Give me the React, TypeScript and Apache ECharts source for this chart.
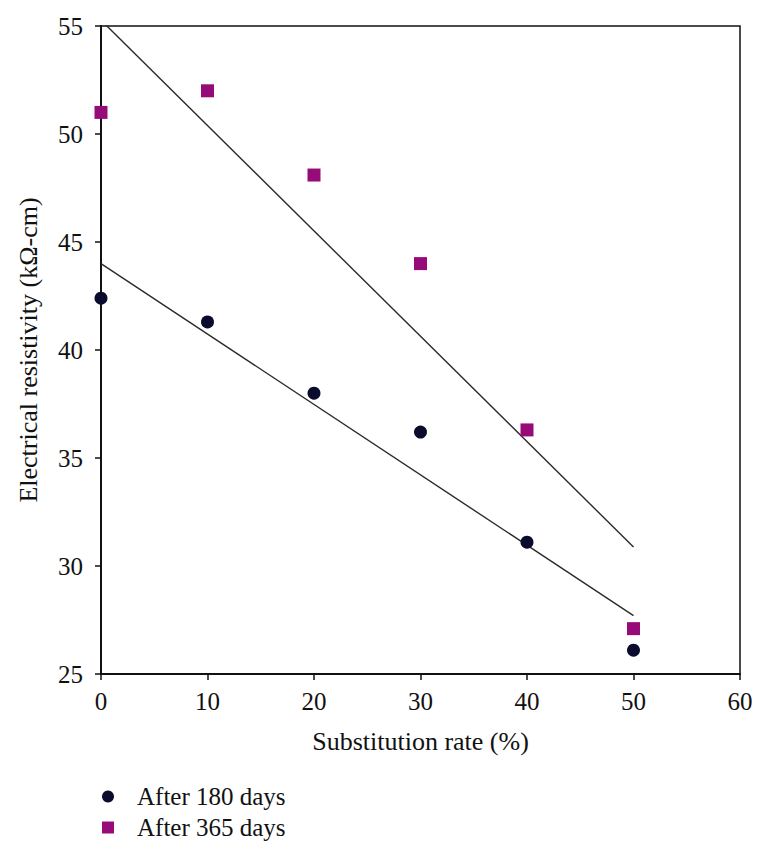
import React, { useEffect, useRef } from "react";
import * as echarts from "echarts";

const xValues = [0, 10, 20, 30, 40, 50];
const days180 = [42.4, 41.3, 38.0, 36.2, 31.1, 26.1];
const days365 = [51.0, 52.0, 48.1, 44.0, 36.3, 27.1];
const trendX = [0, 50];
const trend180 = [44.0, 27.7];
const trend365 = [55.27, 30.88];
const seriesNames = ["After 180 days", "After 365 days"];

const FONT = '"Liberation Serif", "DejaVu Serif", serif';
const TEXT = "#111";

export default function App() {
  const ref = useRef<HTMLDivElement>(null);
  useEffect(() => {
    if (!ref.current) return;
    const chart = echarts.init(ref.current, undefined, { renderer: "svg" });
    const pts = (ys: number[]) => xValues.map((x, i) => [x, ys[i]]);
    const trend = (ys: number[]) => trendX.map((x, i) => [x, ys[i]]);
    const legendText = { fontFamily: FONT, fontSize: 25, color: TEXT, padding: [0, 0, 0, 18] };
    chart.setOption({
      animation: false,
      backgroundColor: "#fff",
      textStyle: { fontFamily: FONT },
      grid: {
        left: 101,
        top: 26,
        right: 18,
        bottom: 168,
        show: true,
        borderColor: "#111",
        borderWidth: 1.5,
        backgroundColor: "transparent",
      },
      legend: [
        {
          orient: "vertical",
          left: 102,
          top: 784,
          itemWidth: 12,
          itemHeight: 12,
          padding: 0,
          data: [{ name: seriesNames[0], icon: "circle" }],
          textStyle: legendText,
        },
        {
          orient: "vertical",
          left: 102,
          top: 815,
          itemWidth: 12,
          itemHeight: 12,
          padding: 0,
          data: [{ name: seriesNames[1], icon: "rect" }],
          textStyle: legendText,
        },
      ],
      xAxis: {
        type: "value",
        min: 0,
        max: 60,
        interval: 10,
        name: "Substitution rate (%)",
        nameLocation: "middle",
        nameGap: 54,
        nameTextStyle: { fontFamily: FONT, fontSize: 26, color: TEXT },
        axisLine: { show: true, onZero: false, lineStyle: { color: "#111", width: 2 } },
        axisTick: { show: true, inside: false, length: 6, lineStyle: { color: "#111", width: 1.5 } },
        axisLabel: { fontFamily: FONT, fontSize: 25, color: TEXT, margin: 15 },
        splitLine: { show: false },
      },
      yAxis: {
        type: "value",
        min: 25,
        max: 55,
        interval: 5,
        name: "Electrical resistivity (kΩ-cm)",
        nameLocation: "middle",
        nameGap: 60,
        nameTextStyle: { fontFamily: FONT, fontSize: 26, color: TEXT },
        axisLine: { show: true, onZero: false, lineStyle: { color: "#111", width: 2 } },
        axisTick: { show: true, inside: false, length: 6, lineStyle: { color: "#111", width: 1.5 } },
        axisLabel: { fontFamily: FONT, fontSize: 25, color: TEXT, margin: 18 },
        splitLine: { show: false },
      },
      series: [
        {
          name: "trend365",
          type: "line",
          data: trend(trend365),
          showSymbol: false,
          clip: true,
          silent: true,
          lineStyle: { color: "#2a2a2a", width: 1.4 },
          z: 1,
        },
        {
          name: "trend180",
          type: "line",
          data: trend(trend180),
          showSymbol: false,
          clip: true,
          silent: true,
          lineStyle: { color: "#2a2a2a", width: 1.4 },
          z: 1,
        },
        {
          name: seriesNames[0],
          type: "scatter",
          data: pts(days180),
          symbol: "circle",
          symbolSize: 13,
          clip: false,
          itemStyle: { color: "#0b0b2e", opacity: 1 },
          z: 3,
        },
        {
          name: seriesNames[1],
          type: "scatter",
          data: pts(days365),
          symbol: "rect",
          symbolSize: 13,
          clip: false,
          itemStyle: { color: "#970b79", opacity: 1 },
          z: 3,
        },
      ],
    });
    return () => chart.dispose();
  }, []);
  return (
    <div
      ref={ref}
      style={{ position: "fixed", left: 0, top: 0, width: 758, height: 842, background: "#fff" }}
    />
  );
}
